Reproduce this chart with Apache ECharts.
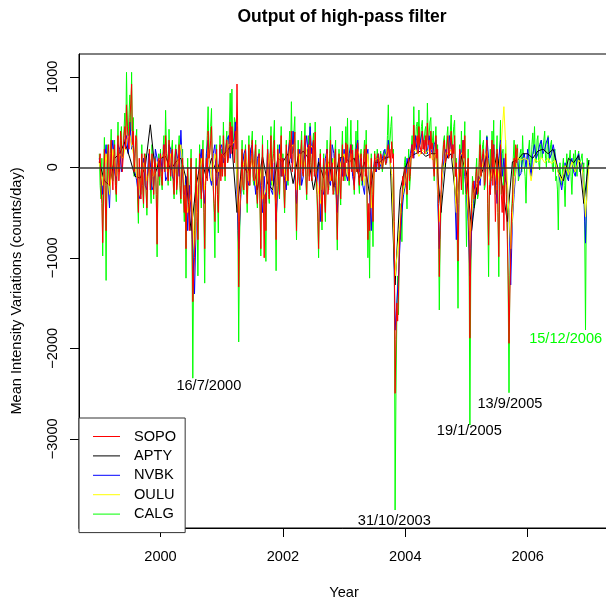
<!DOCTYPE html>
<html><head><meta charset="utf-8">
<script src="https://cdn.jsdelivr.net/npm/echarts@6/dist/echarts.min.js"></script>
<style>html,body{margin:0;padding:0;background:#fff}#c{width:606px;height:604px}</style>
</head><body><div id="c"></div>
<script>
const FONT = '"Liberation Sans", Arial, Helvetica, sans-serif';
const seriesNames = ['SOPO', 'APTY', 'NVBK', 'OULU', 'CALG'];
const startYear = 1999;
const calgStep = 1 / 72, sopoStep = 1 / 72, nvbkStep = 1 / 36, ouluStep = 1 / 18, aptyStep = 1 / 12;

const calgValues = [
  150,-200,-350,100,-980,-100,330,-200,-1250,-50,250,-150,-300,150,420,-50,-150,200,300,-200,-380,100,500,-50,50,300,450,100,150,400,600,250,1050,500,350,600,800,400,1050,300,550,-100,150,300,420,-350,-620,0,-100,-300,250,-150,-450,50,150,-250,-530,-100,80,200,-200,-400,250,-100,-350,50,120,-300,-990,-150,150,-200,
  200,-150,-250,200,350,0,630,200,100,-200,420,50,-150,200,300,-200,-350,150,250,-300,-100,200,350,-250,-400,100,200,-350,-600,-200,-1225,-300,100,-350,-500,-150,200,-800,-2330,-1000,-700,-200,100,-500,-1200,-300,250,-200,-450,100,300,-500,-1280,-200,150,350,670,100,200,450,650,-100,-200,-500,-1000,-100,250,-300,-726,-50,350,-100,
  200,-50,500,100,-150,250,400,50,150,450,820,300,865,200,300,550,500,200,450,-700,-1930,-800,-400,0,300,-250,-300,100,250,-200,-500,-100,350,-200,50,250,400,-150,-200,150,300,-300,-450,50,200,-400,-980,-200,350,-400,-300,-600,-1040,-200,300,-300,-400,100,450,-200,100,300,520,-300,-1143,-200,250,-250,-350,100,450,-100,
  150,-250,-505,-100,300,-50,-200,200,400,100,725,150,200,400,560,-300,-803,-200,300,-150,-250,200,400,-50,-100,250,490,-150,-360,100,350,-100,490,50,-150,250,380,-50,500,-200,-300,-600,-1000,-300,200,-400,-693,-100,150,-350,-600,-50,300,-200,-250,150,450,-100,100,-250,-300,150,300,-500,-915,-200,200,-250,-417,100,400,-100,
  100,-150,450,100,545,-50,-200,200,520,50,250,-100,-300,150,400,-50,520,-150,-290,100,200,-200,-150,150,300,-50,410,-400,-1000,-500,-1225,-200,150,-400,-877,-100,180,-50,50,200,190,-30,80,180,160,-50,40,190,200,30,100,350,690,200,300,450,560,150,200,-900,-3787,-2500,-1700,-1200,-1630,-700,-800,-400,-822,-200,-300,50,
  117,-200,-460,-50,200,-250,-100,200,350,150,670,200,250,450,500,200,633,250,300,450,520,200,250,400,450,150,710,300,350,500,550,200,300,400,-150,250,450,100,250,-600,-1577,-800,-470,-100,100,300,350,0,150,350,450,100,200,400,578,150,300,450,520,-100,100,-700,-1558,-500,250,-100,400,50,-300,150,505,-300,
  -877,-200,200,-900,-2848,-1200,-600,-100,-200,-450,-400,-50,100,-350,-300,150,410,-100,100,250,300,-250,-200,200,350,-500,-1209,-200,200,-150,400,100,520,-200,-300,150,350,-500,-1209,100,520,-300,150,200,-400,-100,300,-300,-500,-1300,-2491,-1200,-900,-500,-300,100,300,-100,100,200,250,-150,-100,150,200,-50,350,100,100,-100,-397,0,
  150,200,300,50,-50,250,380,150,450,100,50,300,350,50,-30,250,300,100,80,300,400,100,0,250,350,50,120,250,300,0,-50,150,200,-150,-100,-250,-693,-100,50,-150,-200,0,100,-200,-435,-50,150,-100,-150,100,190,-100,-300,0,150,-50,190,50,-100,120,180,-50,60,100,150,-50,50,-600,-1798,-300,100,-50,80
];
const sopoValues = [
  50,150,-200,-400,-833,-300,200,-350,-700,-200,150,250,-200,-50,300,-100,-250,100,250,-200,-300,50,350,-150,0,400,300,-50,100,350,450,200,690,450,300,200,550,700,920,250,400,-50,100,350,300,-200,-500,100,-150,-350,150,-200,-400,150,100,-250,-450,-100,0,200,-250,-150,150,-100,-300,100,50,-300,-850,-150,100,-100,
  150,-100,-200,100,250,-50,350,150,50,-150,300,50,-100,150,200,-150,-300,100,200,-250,-150,100,250,-200,-350,-50,100,-300,-500,-200,-900,-300,0,-400,-700,-200,100,-600,-1485,-1200,-1000,-400,0,-500,-800,-250,150,-150,-350,-100,200,-400,-900,-200,100,-150,400,100,150,300,450,50,-200,-400,-600,-100,200,-300,-500,-100,250,-150,
  150,-100,350,100,-100,200,300,50,100,300,500,150,450,250,200,50,400,200,920,300,-1322,-600,-300,-100,200,-200,-250,50,200,-150,-400,-50,250,-200,0,150,300,-100,-150,100,250,-200,-400,-150,150,-350,-900,-200,250,-400,-1000,-300,-700,-100,200,-200,-350,100,350,-150,50,150,300,-300,-800,-200,200,-100,-300,100,350,-100,
  100,-150,-450,-100,250,50,-150,150,300,100,400,-50,150,250,390,-200,-700,-250,200,-100,-200,150,300,-50,-100,200,350,-100,-300,50,250,-150,350,50,-150,200,300,-100,390,-50,-250,-500,-900,-300,150,-250,-600,-200,100,-350,-500,-100,200,-300,-200,50,300,-150,50,-300,-250,100,200,-400,-800,-300,150,-100,-350,-50,250,-150,
  50,-100,270,50,250,-50,-150,100,250,-50,190,-100,-250,50,200,-50,270,-100,-200,50,150,-150,-100,100,200,-100,250,-300,-800,-400,-700,-200,100,-300,-600,-150,150,-50,0,120,150,-30,50,150,120,-20,0,130,150,30,80,200,250,100,200,50,283,100,150,-600,-2498,-1900,-1500,-1700,-1400,-900,-700,-500,-360,-100,-200,0,
  -30,-150,-300,0,100,-150,-50,150,250,100,467,200,200,300,350,150,450,250,250,150,400,200,300,150,350,200,490,250,300,100,400,200,270,0,-100,150,350,100,200,-400,-1209,-700,-300,0,100,250,300,50,100,200,350,100,150,300,400,100,250,150,350,-100,50,-500,-1036,-400,200,-50,-250,100,300,100,350,-100,
  -300,-100,100,-700,-1888,-900,-400,-200,-150,-350,-300,-100,0,-300,-250,50,250,-100,50,150,200,-200,-150,100,300,-400,-860,-200,-300,100,300,-200,250,-100,-600,-200,200,-500,-988,-200,250,-300,-500,-200,-700,-100,150,-400,-800,-1200,-1945,-1400,-1000,-500,-400,-100,100,0,250,50,210
];
const nvbkValues = [
  100,-100,-300,50,250,-150,-450,100,300,-50,-150,250,200,-50,150,300,350,150,500,200,250,-50,-150,-300,-350,-100,100,-200,-250,150,50,-250,-200,200,100,-100,
  150,-50,250,-150,-100,250,200,-100,-150,200,100,-100,410,-50,-300,-100,-700,-200,-500,-900,-1400,-600,-300,50,200,-250,-400,150,300,-100,-200,150,250,-200,-100,200,
  250,50,150,300,350,100,400,200,500,-300,-900,-400,-100,150,200,-150,-200,200,250,-100,-300,100,150,-250,-500,-100,-400,200,200,-250,-300,50,-600,-200,250,-100,
  100,-150,-250,150,300,50,400,-100,-400,-50,200,-200,-100,200,350,100,449,150,300,-100,-200,100,-600,-250,-300,100,200,-150,-200,250,150,-200,-500,-100,100,-100,
  200,-50,-150,150,250,-100,-200,200,300,-50,100,-200,-300,100,200,-300,-700,-100,100,-50,150,0,50,150,200,50,300,100,-120,-500,-1800,-1500,-1200,-800,-500,-300,
  -200,100,0,150,250,100,350,150,200,300,400,200,300,150,350,200,150,250,300,-300,-900,-300,-100,150,200,100,350,200,250,-200,-800,-150,200,100,300,-100,
  -300,-600,-1200,-700,-400,-150,-300,-100,-200,50,150,-50,338,100,-300,50,250,-150,-400,100,300,-100,100,-150,-200,-500,-1300,-600,-300,-50,100,-100,-70,100,150,0,
  200,50,-100,150,250,100,150,250,300,150,200,280,330,100,150,250,250,50,-50,-150,-250,-100,50,-100,-150,50,100,-50,-100,100,150,-50,50,-300,-838,-100,50
];
const ouluValues = [
  50,-200,150,-300,200,-100,150,100,300,350,150,-100,-250,50,-150,0,-100,50,
  100,150,-50,150,-100,50,250,-200,-500,-300,-900,-200,100,-250,200,-150,150,-50,
  150,100,250,250,300,-600,-50,150,-150,150,-200,100,-350,-250,150,-200,-400,150,
  50,-150,200,250,-250,150,-50,200,250,200,-150,-400,-200,150,-150,100,-300,50,
  150,-100,150,-100,200,50,-200,150,-450,80,100,30,120,200,-80,-1200,-800,-350,
  -150,0,150,200,120,190,150,200,80,150,-600,-50,120,200,150,-500,120,180,
  -200,-800,-300,-200,-120,80,180,-200,150,-250,150,670,-150,-900,-200,110,80,100,
  80,-150,90,60,110,50,100,40,80,-60,-150,20,-80,60,-50,80,30,-546,20
];
const aptyValues = [
  60,-150,-200,100,150,280,100,-100,-120,0,470,-60,
  100,120,-30,60,100,-120,-700,-200,100,-120,100,-60,
  120,180,250,-500,60,-60,100,-250,120,-180,-250,100,
  60,150,-180,120,180,100,-250,60,-120,60,-220,100,
  120,60,100,-120,60,-300,50,60,100,120,-1300,-250,
  0,120,150,180,120,150,150,-500,100,150,-400,120,
  -60,-700,-200,-60,120,-120,150,-200,-600,60,80,150,
  150,100,180,200,150,200,-50,-150,100,50,130,-400,80
];
const xTicks = [2000, 2002, 2004, 2006];
const yTicks = [-3000, -2000, -1000, 0, 1000];
const annotationText = ['16/7/2000', '31/10/2003', '19/1/2005', '13/9/2005', '15/12/2006'];
const annotationYear = [2000.79, 2003.82, 2005.046, 2005.71, 2006.62];
const annotationValue = [-2417, -3905, -2914, -2615, -1900];

const annotationColor = ['#000000', '#000000', '#000000', '#000000', '#00ff00'];
const colors = { SOPO: '#ff0000', APTY: '#000000', NVBK: '#0000ff', OULU: '#ffff00', CALG: '#00ff00' };

const toPairs = (vals, step) => vals.map((v, i) => [startYear + i * step, v]);
const lineSeries = (name, vals, step) => ({
  name: name, type: 'line', data: toPairs(vals, step), symbol: 'none', showSymbol: false,
  lineStyle: { color: colors[name], width: 1 }, itemStyle: { color: colors[name] },
  silent: true, animation: false
});
const minus = v => (v < 0 ? '\u2212' + Math.abs(v) : String(v));

const sopo = lineSeries('SOPO', sopoValues, sopoStep);
sopo.markLine = {
  silent: true, symbol: 'none', animation: false, label: { show: false },
  lineStyle: { color: '#333', width: 1.5, type: 'solid' },
  data: [{ yAxis: 0 }]
};

const chart = echarts.init(document.getElementById('c'), null, { renderer: 'canvas' });
chart.setOption({
  animation: false,
  backgroundColor: '#fff',
  title: {
    text: 'Output of high-pass filter', left: 342, top: 8, textAlign: 'center', padding: 0,
    textStyle: { fontFamily: FONT, fontSize: 17.5, fontWeight: 'bold', color: '#000' }
  },
  grid: {
    left: 79, top: 54, width: 530, height: 474, show: true, borderColor: '#000', borderWidth: 1,
    backgroundColor: 'transparent', containLabel: false, outerBoundsMode: 'none'
  },
  xAxis: {
    type: 'value', min: 1998.6683, max: 2007.3284,
    name: 'Year', nameLocation: 'middle', nameGap: 57,
    nameTextStyle: { fontFamily: FONT, fontSize: 14.6, color: '#000' },
    axisLine: { show: true, onZero: false, lineStyle: { color: '#000', width: 1 } },
    axisTick: { show: true, length: 9, customValues: xTicks, lineStyle: { color: '#000', width: 1 } },
    axisLabel: { customValues: xTicks, margin: 21, formatter: v => String(v), fontFamily: FONT, fontSize: 14.6, color: '#000' },
    splitLine: { show: false }
  },
  yAxis: {
    type: 'value', min: -3985.7, max: 1251.9,
    name: 'Mean Intensity Variations (counts/day)', nameLocation: 'middle', nameGap: 55,
    nameTextStyle: { fontFamily: FONT, fontSize: 14.6, color: '#000' },
    axisLine: { show: true, onZero: false, lineStyle: { color: '#000', width: 1 } },
    axisTick: { show: true, length: 9, customValues: yTicks, lineStyle: { color: '#000', width: 1 } },
    axisLabel: { customValues: yTicks, rotate: 90, margin: 19, formatter: minus, fontFamily: FONT, fontSize: 14.6, color: '#000' },
    splitLine: { show: false }
  },
  legend: {
    data: seriesNames, orient: 'vertical', left: 79, top: 418,
    padding: [11, 9, 11, 14], itemWidth: 27, itemHeight: 14, itemGap: 4.4,
    icon: 'path://M0,0H27V1H0Z', symbolKeepAspect: true,
    itemStyle: { borderWidth: 0 },
    borderColor: '#333', borderWidth: 1, backgroundColor: '#fff', selectedMode: false,
    textStyle: { fontFamily: FONT, fontSize: 14.6, color: '#000', padding: [0, 0, 0, 9] }
  },
  series: [
    lineSeries('CALG', calgValues, calgStep),
    lineSeries('NVBK', nvbkValues, nvbkStep),
    lineSeries('APTY', aptyValues, aptyStep),
    lineSeries('OULU', ouluValues, ouluStep),
    sopo,
    {
      type: 'scatter', silent: true, animation: false, symbolSize: 1, z: 5,
      itemStyle: { color: 'rgba(0,0,0,0)', opacity: 1 },
      label: { show: true, position: 'inside', formatter: '{b}', color: '#000', opacity: 1, textBorderWidth: 0, fontFamily: FONT, fontSize: 14.6 },
      data: annotationText.map((t, i) => ({
        name: t, value: [annotationYear[i], annotationValue[i]],
        label: { color: annotationColor[i] }
      }))
    }
  ]
});
</script>
</body></html>
